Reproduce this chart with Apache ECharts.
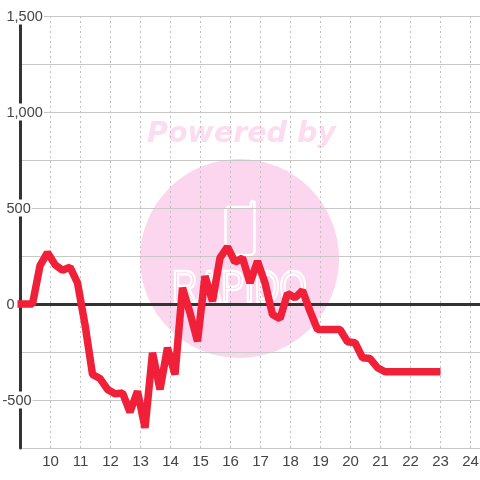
<!DOCTYPE html>
<html>
<head>
<meta charset="utf-8">
<style>html,body{margin:0;padding:0;background:#fff}#c{width:480px;height:480px}</style>
<script src="https://cdn.jsdelivr.net/npm/echarts@6/dist/echarts.min.js"></script>
</head>
<body>
<div id="c"></div>
<script>
const times = [8.9,9.4,9.65,9.9,10.15,10.4,10.65,10.9,11.15,11.4,11.65,11.9,12.15,12.4,12.65,12.9,13.15,13.4,13.65,13.9,14.15,14.4,14.65,14.9,15.15,15.4,15.65,15.9,16.15,16.4,16.65,16.9,17.15,17.4,17.65,17.9,18.15,18.4,18.65,18.9,19.15,19.4,19.65,19.9,20.15,20.4,20.65,20.9,21.15,21.4,21.65,21.9,22.15,22.4,22.65,22.9,23];
const balance = [0,0,200,268,205,176,192,110,-107,-367,-388,-445,-468,-463,-563,-454,-645,-254,-445,-228,-367,84,-46,-194,145,15,240,297,218,240,110,223,110,-55,-77,55,32,70,-37,-133,-133,-133,-133,-197,-202,-280,-284,-332,-353,-353,-353,-353,-353,-353,-353,-353,-353];
const xTickLabels = [10,11,12,13,14,15,16,17,18,19,20,21,22,23,24];
const yTickValues = [1500,1000,500,0,-500];
const yTickLabels = ['1,500','1,000','500','0','-500'];
const watermarkTitle = 'Powered by';
const watermarkName = 'RAPIDO';

const pink = '#fcd5ee';
const chart = echarts.init(document.getElementById('c'), null, {renderer:'canvas'});
const font = '"Liberation Sans", Arial, sans-serif';
const commonX = {type:'value', min:9, max:24.3167, interval:1};
chart.setOption({
  animation:false,
  backgroundColor:'#fff',
  grid:{left:20.5, right:0, top:16, bottom:32, outerBoundsMode:'none'},
  graphic:[
    {type:'circle', z:-1, shape:{cx:239.5, cy:258.5, r:99.5}, style:{fill:pink}},
    {type:'text', z:-1, x:241.5, y:135, style:{text:watermarkTitle, fill:'#fcdcf0', font:'italic bold 28.5px "DejaVu Sans"', align:'center', verticalAlign:'middle'}},
    {type:'text', z:-1, x:239.5, y:290, scaleX:0.8, originX:0, originY:0, style:{text:watermarkName, fill:'rgba(0,0,0,0)', stroke:'#fff', lineWidth:2.5, font:'44px "Liberation Sans"', align:'center', verticalAlign:'middle'}},
    {type:'polyline', z:-1, shape:{points:[[252,207],[228,207],[225.5,210],[225.5,252],[228,255],[252,255],[254.5,252],[254.5,202],[252,201],[251,203],[251,207]]}, style:{fill:'none', stroke:'#fff', lineWidth:2.5}}
  ],
  xAxis:[
    Object.assign({}, commonX, {
      position:'bottom',
      axisLine:{show:false, onZero:false},
      axisTick:{show:false},
      splitLine:{show:true, lineStyle:{color:'#c0c0c0', type:[2,3], width:1}},
      axisLabel:{
        color:'#444', fontFamily:font, fontSize:15, margin:6, showMinLabel:false, showMaxLabel:false,
        formatter:v => xTickLabels.includes(v) ? String(v) : ''
      }
    }),
    Object.assign({}, commonX, {
      axisLine:{show:true, onZero:true, lineStyle:{color:'#333', width:3}},
      axisTick:{show:false}, axisLabel:{show:false}, splitLine:{show:false}
    })
  ],
  yAxis:{
    type:'value', min:-750, max:1500, interval:250,
    axisLine:{show:true, onZero:false, lineStyle:{color:'#333', width:3}},
    axisTick:{show:false},
    splitLine:{show:true, lineStyle:{color:'#c8c8c8', width:1}},
    axisLabel:{
      align:'left', margin:18, color:'#444', fontFamily:font, fontSize:14.5,
      backgroundColor:'#fff', padding:[2,1,0,0],
      rich:{p:{width:4}, t:{color:'#444', fontFamily:font, fontSize:14.5}},
      formatter:v => {
        const i = yTickValues.indexOf(v);
        if (i < 0) return '';
        return v < 0 ? '{t|' + yTickLabels[i] + '}' : '{p|}{t|' + yTickLabels[i] + '}';
      }
    }
  },
  series:[{
    type:'line', xAxisIndex:0, data:times.map((t,i)=>[t,balance[i]]),
    showSymbol:false, symbol:'none', clip:false, z:5,
    lineStyle:{color:'#f02038', width:7.5, join:'bevel', cap:'butt'}
  }]
});
</script>
</body>
</html>
